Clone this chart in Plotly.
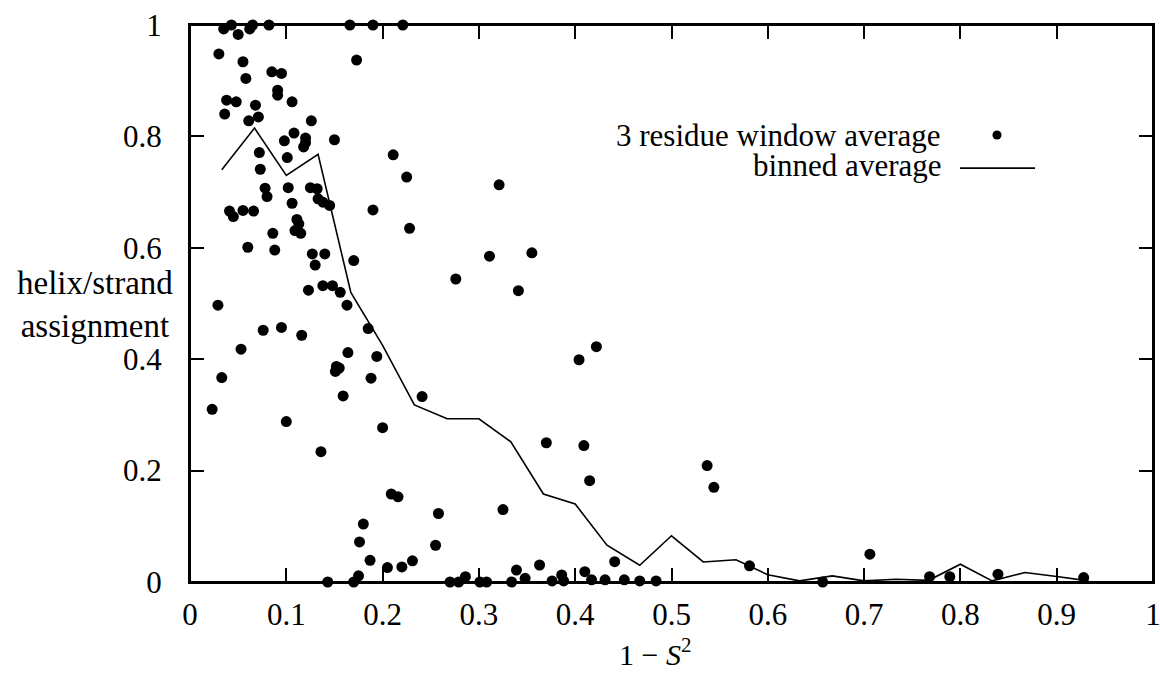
import plotly.graph_objects as go

# ---- data ----
scatter_x = [0.035, 0.043, 0.050, 0.062, 0.065, 0.082, 0.166, 0.190, 0.221,
             0.030, 0.173, 0.055, 0.085, 0.095, 0.058, 0.091, 0.091, 0.106, 0.038,
             0.048, 0.068, 0.036, 0.071, 0.061, 0.126, 0.108, 0.098, 0.120, 0.120,
             0.118, 0.150, 0.072, 0.101, 0.073, 0.078, 0.102, 0.125, 0.132, 0.133,
             0.138, 0.145, 0.080, 0.106, 0.041, 0.055, 0.066, 0.190, 0.045,
             0.111, 0.113, 0.109, 0.115, 0.086, 0.060, 0.088, 0.127, 0.140, 0.130,
             0.170, 0.138, 0.148, 0.123, 0.156, 0.163, 0.029, 0.185, 0.076, 0.095,
             0.116, 0.053, 0.164, 0.194, 0.152, 0.155, 0.151, 0.033, 0.188, 0.159,
             0.023, 0.100, 0.136, 0.241, 0.200, 0.370, 0.209, 0.216, 0.258, 0.325,
             0.255, 0.187, 0.205, 0.220, 0.231, 0.270, 0.279, 0.286, 0.301, 0.308,
             0.339, 0.334, 0.348, 0.363, 0.376, 0.386, 0.388,
             0.180, 0.176, 0.175, 0.170, 0.143,
             0.211, 0.225, 0.321, 0.228, 0.311, 0.355, 0.276, 0.341,
             0.422, 0.404, 0.409, 0.415, 0.537, 0.544, 0.441, 0.410, 0.417, 0.431,
             0.451, 0.467, 0.484, 0.581,
             0.706, 0.657, 0.768, 0.789, 0.839, 0.928]
scatter_y = [0.993, 1.0, 0.983, 0.993, 1.0, 1.0, 1.0, 1.0, 1.0,
             0.948, 0.937, 0.934, 0.916, 0.913, 0.904, 0.883, 0.874, 0.862, 0.865,
             0.862, 0.856, 0.840, 0.835, 0.828, 0.828, 0.806, 0.792, 0.797, 0.789,
             0.781, 0.794, 0.771, 0.762, 0.741, 0.707, 0.708, 0.708, 0.706, 0.688,
             0.682, 0.676, 0.692, 0.680, 0.666, 0.667, 0.666, 0.668, 0.656,
             0.651, 0.643, 0.631, 0.626, 0.626, 0.601, 0.596, 0.589, 0.589, 0.569,
             0.577, 0.532, 0.532, 0.524, 0.520, 0.497, 0.497, 0.455, 0.452, 0.457,
             0.443, 0.418, 0.412, 0.405, 0.387, 0.384, 0.378, 0.367, 0.366, 0.334,
             0.310, 0.288, 0.234, 0.333, 0.277, 0.250, 0.158, 0.153, 0.123, 0.130,
             0.066, 0.039, 0.026, 0.027, 0.038, 0.0, 0.0, 0.0095, 0.0, 0.0,
             0.0215, 0.0, 0.0066, 0.0305, 0.002, 0.0126, 0.002,
             0.104, 0.072, 0.011, 0.0, 0.0,
             0.767, 0.727, 0.713, 0.635, 0.585, 0.591, 0.544, 0.523,
             0.4225, 0.399, 0.245, 0.182, 0.209, 0.170, 0.0365, 0.0185, 0.004, 0.004,
             0.004, 0.002, 0.002, 0.029,
             0.050, 0.0, 0.0095, 0.0095, 0.014, 0.008]

binned_x = [0.033, 0.067, 0.100, 0.133, 0.167, 0.200, 0.233, 0.267, 0.300, 0.333,
            0.367, 0.400, 0.433, 0.467, 0.500, 0.533, 0.567, 0.600, 0.633, 0.667,
            0.700, 0.733, 0.767, 0.800, 0.833, 0.867, 0.900, 0.933]
binned_y = [0.740, 0.815, 0.730, 0.768, 0.520, 0.425, 0.318, 0.293, 0.293, 0.252,
            0.158, 0.140, 0.066, 0.030, 0.083, 0.036, 0.040, 0.013, 0.002, 0.011,
            0.002, 0.005, 0.003, 0.032, 0.002, 0.017, 0.010, 0.002]

x_ticks = [0, 0.1, 0.2, 0.3, 0.4, 0.5, 0.6, 0.7, 0.8, 0.9, 1]
x_ticktext = ["0", "0.1", "0.2", "0.3", "0.4", "0.5", "0.6", "0.7", "0.8", "0.9", "1"]
y_ticks = [0, 0.2, 0.4, 0.6, 0.8, 1]
y_ticktext = ["0", "0.2", "0.4", "0.6", "0.8", "1"]

FONT = "Liberation Serif"

fig = go.Figure()
fig.add_trace(go.Scatter(x=binned_x, y=binned_y, mode="lines",
                         line=dict(color="black", width=1.6),
                         name="binned average", showlegend=False))
fig.add_trace(go.Scatter(x=scatter_x, y=scatter_y, mode="markers",
                         marker=dict(color="black", size=11),
                         cliponaxis=False,
                         name="3 residue window average", showlegend=False))

axis_common = dict(showline=True, linecolor="black", linewidth=2, mirror="ticks",
                   ticks="inside", ticklen=14, tickwidth=2, tickcolor="black",
                   showgrid=False, zeroline=False, automargin=False,
                   ticklabeloverflow="allow",
                   tickfont=dict(family=FONT, size=31, color="black"))

fig.update_xaxes(range=[0, 1], tickvals=x_ticks, ticktext=x_ticktext,
                 ticklabelstandoff=4, **axis_common)
fig.update_yaxes(range=[0, 1], tickvals=y_ticks, ticktext=y_ticktext,
                 ticklabelstandoff=20, **axis_common)

# frame around the plot area (top and right edges)
fig.add_shape(type="rect", xref="paper", yref="paper", x0=0, x1=1, y0=0, y1=1,
              line=dict(color="black", width=2), fillcolor="rgba(0,0,0,0)",
              layer="above")

fig.add_annotation(text="helix/strand<br>assignment", xref="paper", yref="paper",
                   x=-0.0987, y=0.499, xanchor="center", yanchor="middle",
                   showarrow=False, font=dict(family=FONT, size=33, color="black"))
fig.add_annotation(text="1 − <i>S</i><sup>2</sup>", xref="paper", yref="paper",
                   x=0.483, y=-0.126, xanchor="center", yanchor="middle",
                   showarrow=False, font=dict(family=FONT, size=30, color="black"))
fig.add_annotation(text="3 residue window average", xref="paper", yref="paper",
                   x=0.782, y=0.8025, xanchor="right", yanchor="middle",
                   showarrow=False, font=dict(family=FONT, size=31, color="black"))
fig.add_annotation(text="binned average", xref="paper", yref="paper",
                   x=0.782, y=0.747, xanchor="right", yanchor="middle",
                   showarrow=False, font=dict(family=FONT, size=31, color="black"))
# legend keys
fig.add_shape(type="circle", xref="paper", yref="paper",
              x0=0.838 - 0.0047, x1=0.838 + 0.0047, y0=0.8025 - 0.0081, y1=0.8025 + 0.0081,
              fillcolor="black", line=dict(color="black", width=0))
fig.add_shape(type="line", xref="paper", yref="paper",
              x0=0.7996, x1=0.8775, y0=0.743, y1=0.743,
              line=dict(color="black", width=1.6))

fig.update_layout(width=1160, height=673, autosize=False,
                  margin=dict(l=190, r=7, t=25, b=91),
                  paper_bgcolor="white", plot_bgcolor="rgba(0,0,0,0)",
                  showlegend=False)

fig.write_html("out.html", config={"displayModeBar": False},
               post_script="document.body.style.margin='0';document.body.style.overflow='hidden';")
